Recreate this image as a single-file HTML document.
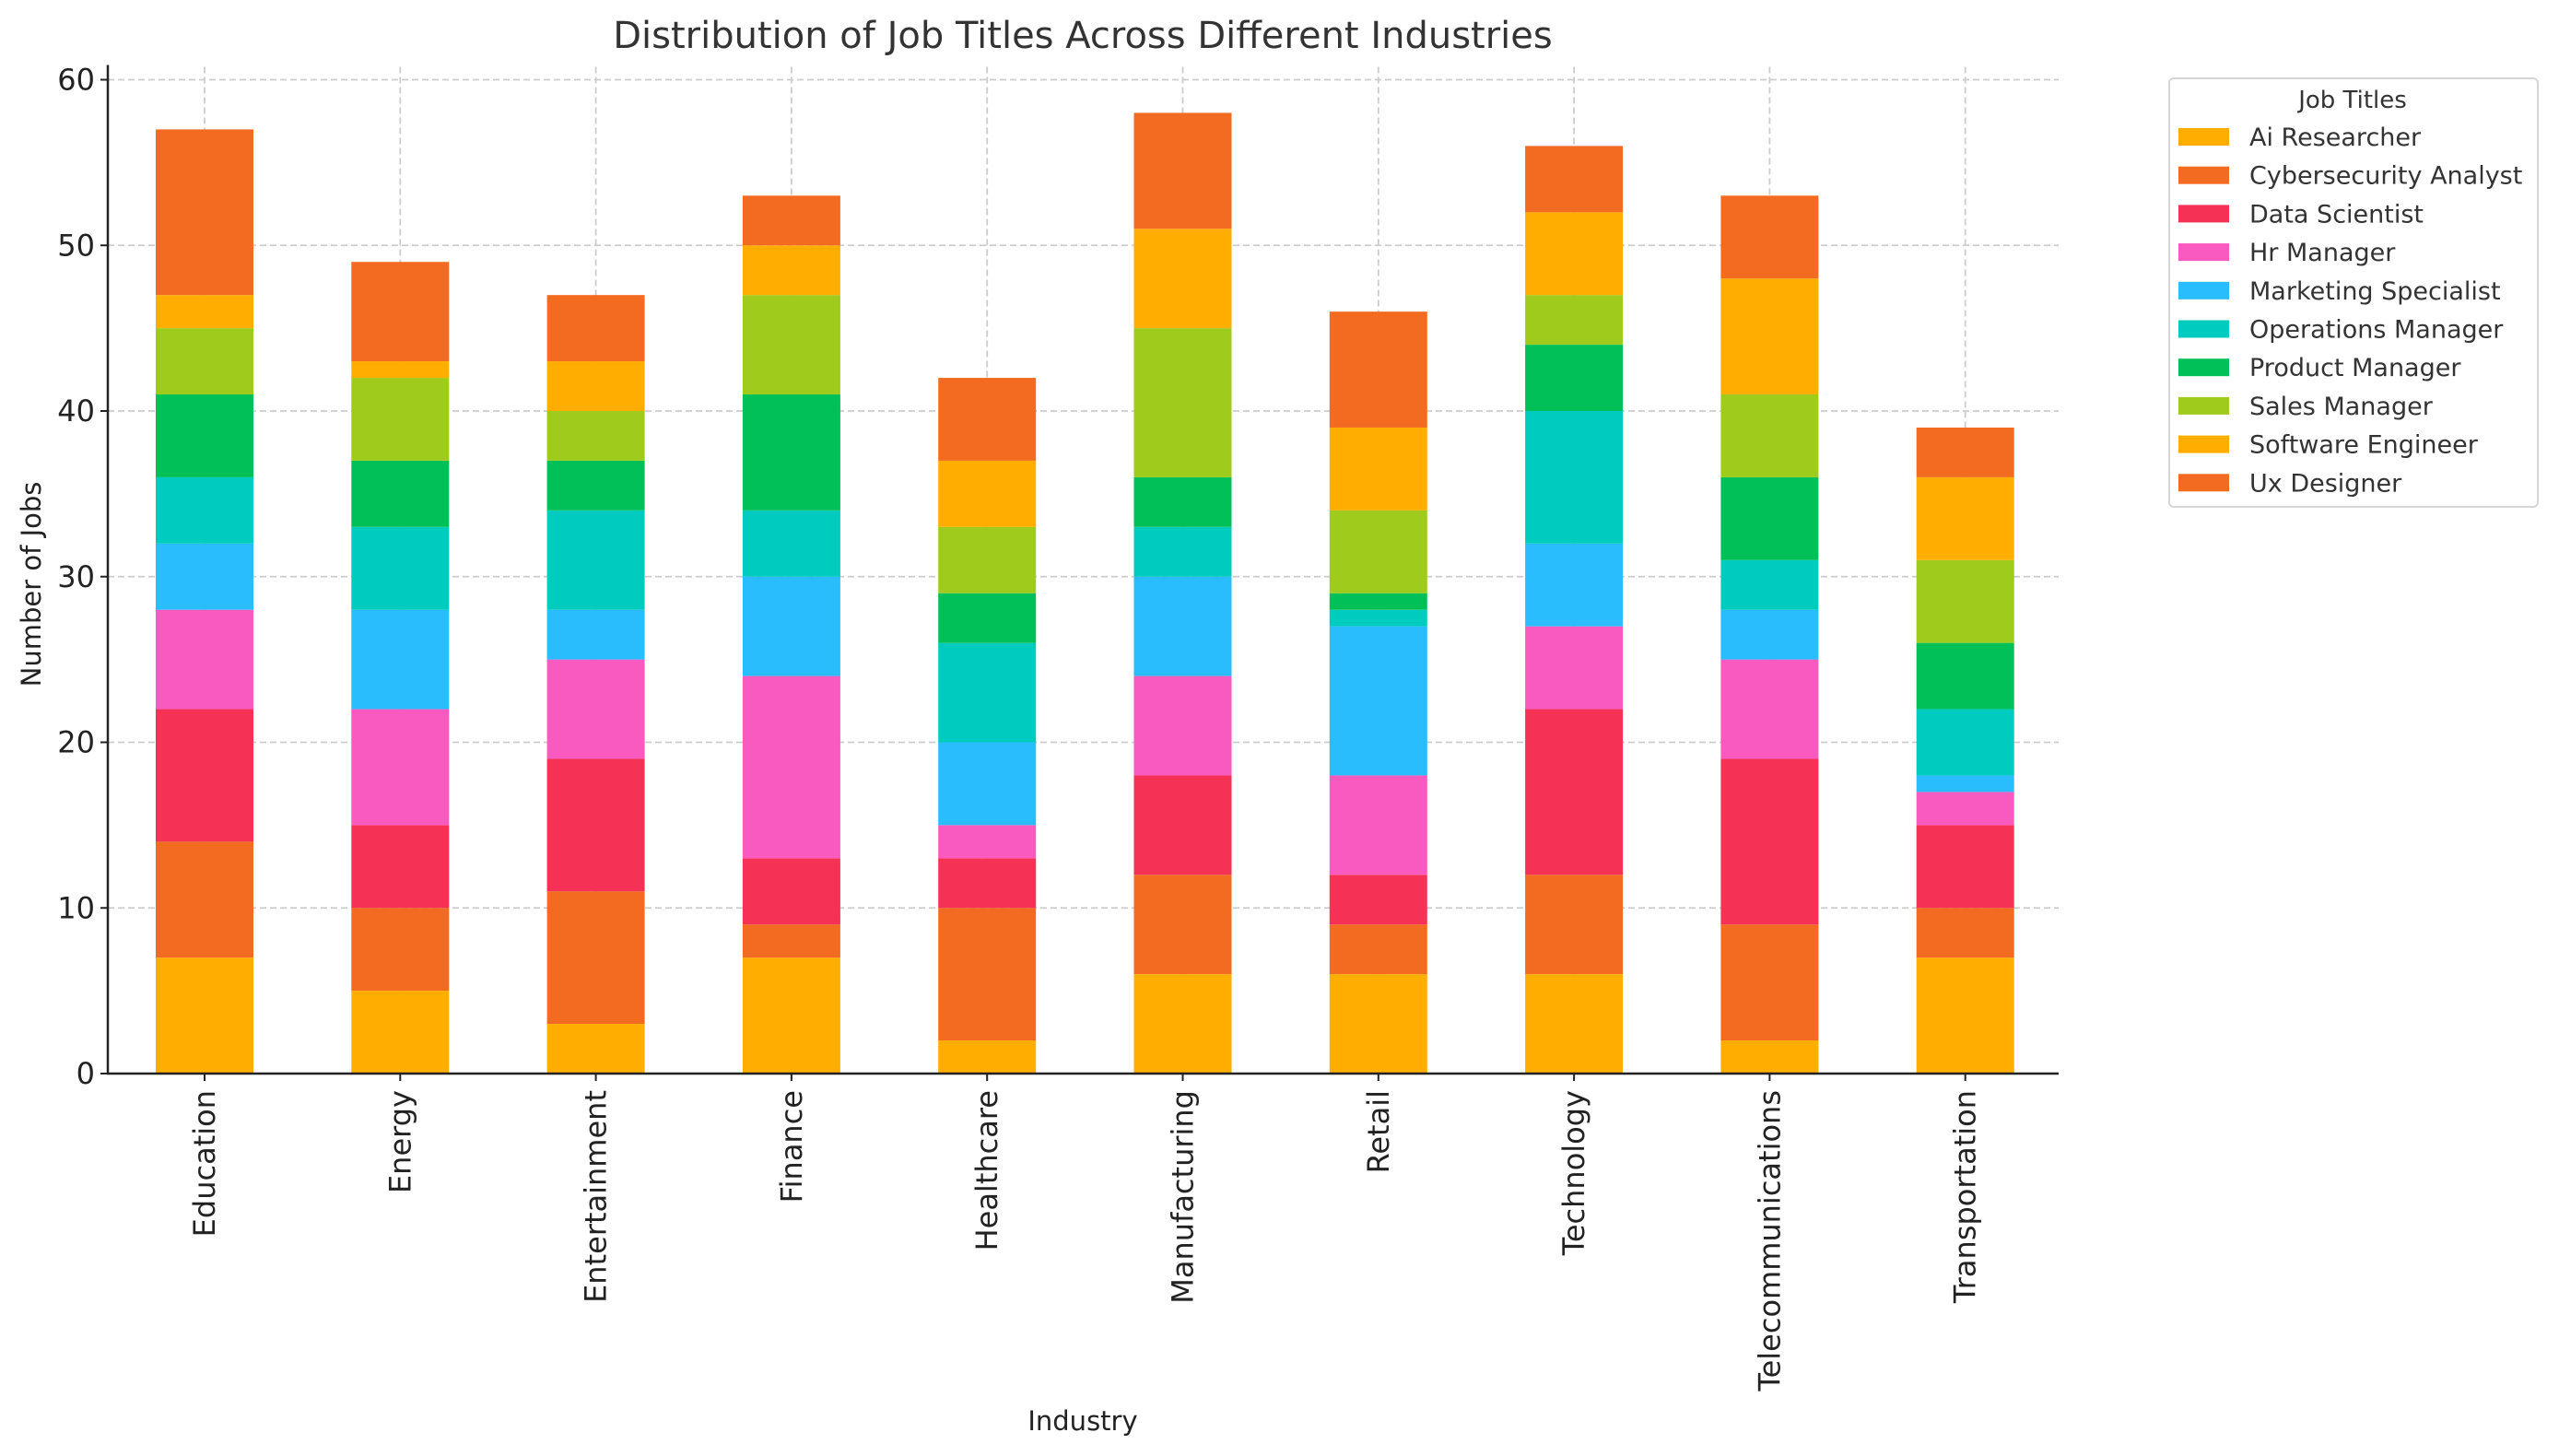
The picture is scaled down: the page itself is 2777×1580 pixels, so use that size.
<!DOCTYPE html>
<html><head><meta charset="utf-8"><style>
html,body{margin:0;padding:0;background:#fff;}
svg{display:block;font-family:"DejaVu Sans","Liberation Sans",sans-serif;}
</style></head><body>
<svg id="chart" width="2777" height="1580" viewBox="0 0 2777 1580" xmlns="http://www.w3.org/2000/svg">
<rect width="2777" height="1580" fill="#fff"/>
<text x="1175" y="52" text-anchor="middle" font-size="40" fill="#333">Distribution of Job Titles Across Different Industries</text>
<g id="grid"></g>
<g id="bars"></g>
<g id="axes"></g>
<text transform="translate(44,634) rotate(-90)" text-anchor="middle" font-size="29" fill="#222">Number of Jobs</text>
<text x="1175" y="1552" text-anchor="middle" font-size="29" fill="#222">Industry</text>
<g id="legend"></g>
</svg>
<script>
const industries = ["Education","Energy","Entertainment","Finance","Healthcare","Manufacturing","Retail","Technology","Telecommunications","Transportation"];
const jobTitles = ["Ai Researcher","Cybersecurity Analyst","Data Scientist","Hr Manager","Marketing Specialist","Operations Manager","Product Manager","Sales Manager","Software Engineer","Ux Designer"];
const aiResearcher = [7,5,3,7,2,6,6,6,2,7];
const cybersecurityAnalyst = [7,5,8,2,8,6,3,6,7,3];
const dataScientist = [8,5,8,4,3,6,3,10,10,5];
const hrManager = [6,7,6,11,2,6,6,5,6,2];
const marketingSpecialist = [4,6,3,6,5,6,9,5,3,1];
const operationsManager = [4,5,6,4,6,3,1,8,3,4];
const productManager = [5,4,3,7,3,3,1,4,5,4];
const salesManager = [4,5,3,6,4,9,5,3,5,5];
const softwareEngineer = [2,1,3,3,4,6,5,5,7,5];
const uxDesigner = [10,6,4,3,5,7,7,4,5,3];
const yTicks = [0,10,20,30,40,50,60];
const seriesList = [aiResearcher,cybersecurityAnalyst,dataScientist,hrManager,marketingSpecialist,operationsManager,productManager,salesManager,softwareEngineer,uxDesigner];
const colors = ["#FFAE00","#F26B21","#F53256","#F85AC0","#29BDFD","#00CBBF","#01C057","#9ECB1C","#FFAE00","#F26B21"];

const NS="http://www.w3.org/2000/svg";
const L=117,R=2234,Y0=1165,Y60=86.5;
function yS(v){return Y0-(Y0-Y60)*v/60;}
function xS(i){return 222+i*212.3;}
const BW=106;
function mk(tag,attrs,parent){const e=document.createElementNS(NS,tag);for(const k in attrs)e.setAttribute(k,attrs[k]);parent.appendChild(e);return e;}
const grid=document.getElementById('grid'),bars=document.getElementById('bars'),axes=document.getElementById('axes'),legend=document.getElementById('legend');

yTicks.forEach(t=>{
  const y=yS(t);
  const gl=mk('line',{x1:L,x2:R,y1:y,y2:y,stroke:'#cccccc','stroke-width':1.8,'stroke-dasharray':'7,4'},grid);
  
  
  const tk=mk('line',{x1:L-8,x2:L,y1:y,y2:y,stroke:'#222','stroke-width':2},axes);
  
  
  const tl=mk('text',{x:L-14,y:y+11,'text-anchor':'end','font-size':32,fill:'#222'},axes);
  tl.textContent=t;
  
  
});
industries.forEach((name,i)=>{
  const x=xS(i);
  const gl=mk('line',{x1:x,x2:x,y1:Y60-14,y2:Y0,stroke:'#cccccc','stroke-width':1.8,'stroke-dasharray':'7,4'},grid);
  
  
  let cum=0;
  seriesList.forEach((s,k)=>{
    const v=s[i];
    const r=mk('rect',{x:x-BW/2,y:yS(cum+v),width:BW,height:yS(cum)-yS(cum+v),fill:colors[k]},bars);
    
    
    cum+=v;
  });
  const tk=mk('line',{x1:x,x2:x,y1:Y0,y2:Y0+8,stroke:'#222','stroke-width':2},axes);
  
  
  const tl=mk('text',{transform:`translate(${x+11},${Y0+18}) rotate(-90)`,'text-anchor':'end','font-size':32,fill:'#222'},axes);
  tl.textContent=name;
  
  
});
const ax=mk('path',{d:`M${L},${Y60-16} L${L},${Y0} L${R},${Y0}`,fill:'none',stroke:'#222','stroke-width':2.5},axes);



const lb=mk('rect',{x:2354,y:85,width:400,height:465,rx:5,fill:'#fff',stroke:'#d6d6d6','stroke-width':2},legend);


const lt=mk('text',{x:2553,y:117,'text-anchor':'middle','font-size':26,fill:'#333'},legend);
lt.textContent='Job Titles';


jobTitles.forEach((n,k)=>{
  const cy=149+k*41.7;
  const sw=mk('rect',{x:2364,y:cy-10,width:55,height:19,fill:colors[k]},legend);
  
  
  const tx=mk('text',{x:2441,y:cy+9,'font-size':27,fill:'#333'},legend);
  tx.textContent=n;
  
  
});
</script>
</body></html>
